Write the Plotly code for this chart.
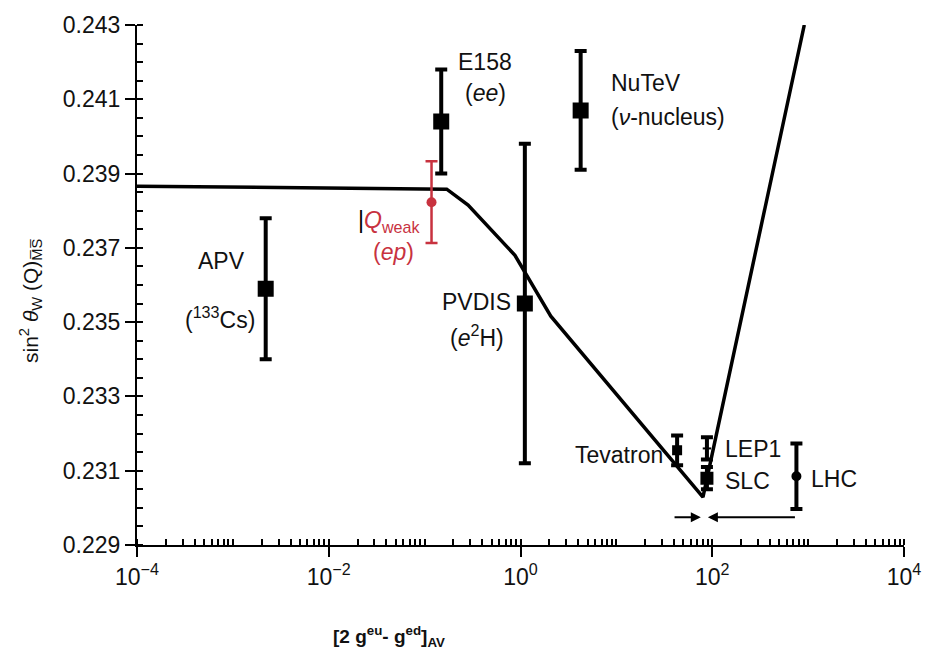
import plotly.graph_objects as go
import math

# ---- data ----
exp_names = ["APV", "E158", "NuTeV", "PVDIS", "Tevatron", "LEP1", "SLC", "LHC"]
exp_x = [0.0022, 0.149, 4.24, 1.11, 43.0, 88.0, 88.0, 755.0]
exp_y = [0.2359, 0.2404, 0.2407, 0.2355, 0.23155, 0.23160, 0.23080, 0.23085]
exp_err = [0.0019, 0.0014, 0.0016, 0.0043, 0.0004, 0.0003, 0.0003, 0.00088]
exp_marker = ["square", "square", "square", "square", "square", "line-ew", "square", "circle"]
exp_msize = [14, 14, 14, 14, 8, 6, 11, 8]

qweak_x = [0.118]
qweak_y = [0.23823]
qweak_err = [0.0011]

theory_x = [1e-4, 0.17, 0.284, 0.875, 2.07, 80.0, 912.0]
theory_y = [0.23866, 0.23858, 0.23815, 0.2368, 0.23516, 0.23029, 0.2430]

x_tickvals = [1e-4, 1e-2, 1, 1e2, 1e4]
x_ticktext = ["10<sup>−4</sup>", "10<sup>−2</sup>", "10<sup>0</sup>", "10<sup>2</sup>", "10<sup>4</sup>"]
y_tickvals = [0.229, 0.231, 0.233, 0.235, 0.237, 0.239, 0.241, 0.243]

FONT = "Liberation Sans, Arial, sans-serif"
RED = "#C8323F"
TXT = "#111111"

fig = go.Figure()

fig.add_trace(go.Scatter(
    x=theory_x, y=theory_y, mode="lines",
    line=dict(color="black", width=3.5), showlegend=False, hoverinfo="skip"))

for name, x, y, e, m, s in zip(exp_names, exp_x, exp_y, exp_err, exp_marker, exp_msize):
    fig.add_trace(go.Scatter(
        x=[x], y=[y], mode="markers",
        marker=dict(symbol=m, size=s, color="black", line=dict(color="black", width=2)),
        error_y=dict(type="constant", value=e, color="black", thickness=4, width=6),
        showlegend=False, name=name))

fig.add_trace(go.Scatter(
    x=qweak_x, y=qweak_y, mode="markers",
    marker=dict(symbol="circle", size=10, color=RED),
    error_y=dict(type="constant", value=qweak_err[0], color=RED, thickness=2.5, width=6),
    showlegend=False, name="Qweak"))


def lx(v):
    return math.log10(v)


ann = []


def label(text, x, y, xanchor="center", color=TXT, size=23):
    ann.append(dict(x=lx(x), y=y, xref="x", yref="y", text=text, showarrow=False,
                    xanchor=xanchor, yanchor="middle",
                    font=dict(family=FONT, size=size, color=color)))


label("E158", 10**-0.67, 0.24200, xanchor="left")
label("(<i>ee</i>)", 10**-0.369, 0.24117)
label("NuTeV", 10**0.927, 0.24144, xanchor="left")
label("(<i>ν</i>-nucleus)", 10**0.927, 0.24052, xanchor="left")
label("APV", 10**-3.118, 0.23665)
label("(<sup>133</sup>Cs)", 10**-3.13, 0.23511)
label('<span style="color:black">|</span><i>Q</i><sub>weak</sub>', 10**-1.718, 0.23772,
      xanchor="left", color=RED)
label("(<i>ep</i>)", 10**-1.324, 0.23689, color=RED)
label("PVDIS", 10**-0.463, 0.23554)
label("(<i>e</i><sup>2</sup>H)", 10**-0.45, 0.23463)
label("Tevatron", 10**1.508, 0.23142, xanchor="right")
label("LEP1", 10**2.11, 0.23158, xanchor="left")
label("SLC", 10**2.11, 0.23072, xanchor="left")
label("LHC", 10**3.013, 0.23078, xanchor="left")

# arrows
ann.append(dict(x=lx(76), y=0.22975, ax=lx(39), ay=0.22975, xref="x", yref="y",
                axref="x", ayref="y", showarrow=True, arrowhead=2, arrowsize=1,
                arrowwidth=2, arrowcolor="black", text=""))
ann.append(dict(x=lx(90), y=0.22975, ax=lx(755), ay=0.22975, xref="x", yref="y",
                axref="x", ayref="y", showarrow=True, arrowhead=2, arrowsize=1,
                arrowwidth=2, arrowcolor="black", text=""))

# axis titles
ann.append(dict(xref="paper", yref="paper", x=-0.139, y=0.47,
                text="sin<sup>2</sup> <i>θ</i><sub>W</sub> (Q)<sub>M̅S̅</sub>",
                textangle=-90, showarrow=False, xanchor="center", yanchor="middle",
                font=dict(family=FONT, size=21, color=TXT)))
ann.append(dict(xref="paper", yref="paper", x=0.328, y=-0.175,
                text="<b>[2 g<sup>eu</sup>- g<sup>ed</sup>]<sub>AV</sub></b>",
                showarrow=False, xanchor="center", yanchor="middle",
                font=dict(family=FONT, size=19, color=TXT)))

fig.update_layout(
    width=933, height=656,
    margin=dict(l=137, r=25, t=25, b=111),
    paper_bgcolor="white", plot_bgcolor="white",
    annotations=ann,
    xaxis=dict(type="log", range=[-4, 4], tickvals=x_tickvals, ticktext=x_ticktext,
               showgrid=False, zeroline=False, showline=True, linecolor="black", linewidth=2,
               ticks="outside", ticklen=10, tickwidth=2, tickcolor="black",
               tickfont=dict(family=FONT, size=23, color=TXT),
               minor=dict(ticks="inside", ticklen=6, tickwidth=1.5, tickcolor="black",
                          dtick="D1", showgrid=False)),
    yaxis=dict(range=[0.229, 0.243], tickvals=y_tickvals, tickformat=".3f",
               showgrid=False, zeroline=False, showline=True, linecolor="black", linewidth=2,
               ticks="outside", ticklen=10, tickwidth=2, tickcolor="black",
               tickfont=dict(family=FONT, size=23, color=TXT),
               minor=dict(ticks="inside", ticklen=6, tickwidth=1.5, tickcolor="black",
                          dtick=0.0005, showgrid=False)),
)

fig.write_html("out.html")
